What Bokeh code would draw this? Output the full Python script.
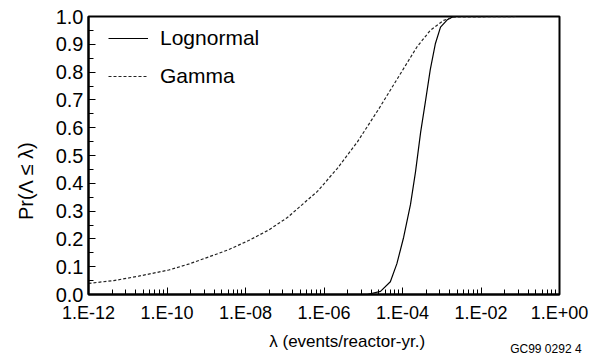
import math
from bokeh.plotting import figure
from bokeh.models import (Range1d, FixedTicker, CustomJSTickFormatter,
                          Legend, LegendItem, LogAxis, LinearAxis)
from bokeh.embed import file_html
from bokeh.resources import INLINE

# ---- data ----
lognormal_lambda = [5.0e-6, 1.26e-5, 2.75e-5, 4.9e-5, 7.2e-5, 1.07e-4, 1.6e-4,
                    2.15e-4, 2.9e-4, 3.8e-4, 5.1e-4, 6.9e-4, 9.3e-4, 1.38e-3,
                    2.0e-3, 3.0e-2]
lognormal_prob = [0.0, 0.0, 0.011, 0.046, 0.111, 0.206, 0.324,
                  0.442, 0.584, 0.690, 0.809, 0.903, 0.962, 0.988,
                  1.0, 1.0]

gamma_lambda = [1.0e-12, 4.4e-12, 1.9e-11, 1.1e-10, 3.5e-10, 1.15e-9, 3.7e-9,
                1.2e-8, 3.9e-8, 1.17e-7, 6.8e-7, 2.2e-6, 7.1e-6, 2.5e-5,
                8.5e-5, 2.35e-4, 5.1e-4, 1.12e-3, 2.0e-3, 8.0e-2]
gamma_prob = [0.040, 0.050, 0.066, 0.088, 0.109, 0.135, 0.161,
              0.194, 0.232, 0.277, 0.371, 0.454, 0.549, 0.668,
              0.790, 0.891, 0.950, 0.986, 0.998, 1.0]

x_ticks = [1e-12, 1e-10, 1e-8, 1e-6, 1e-4, 1e-2, 1e0]
x_tick_labels = ["1.E-12", "1.E-10", "1.E-08", "1.E-06", "1.E-04", "1.E-02", "1.E+00"]
y_ticks = [0.0, 0.1, 0.2, 0.3, 0.4, 0.5, 0.6, 0.7, 0.8, 0.9, 1.0]
y_tick_labels = ["0.0", "0.1", "0.2", "0.3", "0.4", "0.5", "0.6", "0.7", "0.8", "0.9", "1.0"]
series_names = ["Lognormal", "Gamma"]
x_title = "λ (events/reactor-yr.)"
y_title = "Pr(Λ ≤ λ)"
figure_code = "GC99 0292 4"

FONT = "Liberation Sans"

p = figure(width=591, height=358, x_axis_type="log",
           x_range=Range1d(1e-12, 1e0), y_range=Range1d(0, 1),
           output_backend="svg", toolbar_location=None,
           min_border_left=88, min_border_right=32,
           min_border_top=16, min_border_bottom=60)
p.background_fill_color = "white"
p.border_fill_color = "white"
p.outline_line_color = "black"
p.outline_line_width = 2
p.xgrid.visible = False
p.ygrid.visible = False

# minor ticks on x: log-spaced within each two-decade interval
x_minor = []
for t in x_ticks[:-1]:
    for k in range(2, 10):
        x_minor.append(t * k * k)
y_minor = [0.05 + 0.1 * i for i in range(10)]

xa = p.xaxis[0]
xa.ticker = FixedTicker(ticks=x_ticks, minor_ticks=x_minor)
xa.formatter = CustomJSTickFormatter(args=dict(labels=x_tick_labels),
                                     code="return labels[index];")
ya = p.yaxis[0]
ya.ticker = FixedTicker(ticks=y_ticks, minor_ticks=y_minor)
ya.formatter = CustomJSTickFormatter(args=dict(labels=y_tick_labels),
                                     code="return labels[index];")

for ax in (xa, ya):
    ax.axis_line_width = 2
    ax.axis_line_color = "black"
    ax.major_tick_in = 7
    ax.major_tick_out = 0
    ax.minor_tick_in = 5
    ax.minor_tick_out = 0
    ax.major_tick_line_color = "black"
    ax.minor_tick_line_color = "black"
    ax.major_label_text_font = FONT
    ax.major_label_text_color = "black"
xa.major_label_text_font_size = "18px"
xa.major_label_standoff = 8
ya.major_label_text_font_size = "20px"
ya.major_label_standoff = 5

r1 = p.line(lognormal_lambda, lognormal_prob, line_color="black", line_width=1.2)
r2 = p.line(gamma_lambda, gamma_prob, line_color="#222222", line_width=1.2,
            line_dash="3 2")

legend = Legend(items=[LegendItem(label=series_names[0], renderers=[r1]),
                       LegendItem(label=series_names[1], renderers=[r2])],
                location=(20, 206), orientation="vertical")
legend.background_fill_alpha = 0
legend.border_line_alpha = 0
legend.padding = 0
legend.margin = 0
legend.spacing = 14
legend.glyph_width = 40
legend.glyph_height = 20
legend.label_height = 20
legend.label_standoff = 12
legend.label_text_font = FONT
legend.label_text_font_size = "21px"
legend.label_text_color = "black"
p.add_layout(legend, "center")


def text_axis(axis, pos, text, size, standoff, orientation="horizontal"):
    axis.ticker = FixedTicker(ticks=[pos], minor_ticks=[])
    axis.formatter = CustomJSTickFormatter(args=dict(t=text), code="return t;")
    axis.axis_line_alpha = 0
    axis.major_tick_line_alpha = 0
    axis.minor_tick_line_alpha = 0
    axis.major_tick_in = 0
    axis.major_tick_out = 0
    axis.minor_tick_in = 0
    axis.minor_tick_out = 0
    axis.major_label_standoff = standoff
    axis.major_label_text_font = FONT
    axis.major_label_text_font_size = size
    axis.major_label_text_color = "black"
    axis.major_label_orientation = orientation
    return axis


# x-axis title, drawn as the label of a bare axis
xt_axis = text_axis(LogAxis(), 3.9e-6, x_title, "17px", 6)
p.add_layout(xt_axis, "below")

# figure code at bottom right, drawn as the label of a bare axis (pulled up)
gc_axis = text_axis(LogAxis(), 0.45, figure_code, "12px", -12)
p.add_layout(gc_axis, "below")

# y-axis title, drawn as a rotated label of a bare axis
yt_axis = text_axis(LinearAxis(), 0.551, y_title, "20px", 26, math.pi / 2)
p.add_layout(yt_axis, "left")

open("out.html", "w").write(file_html(p, INLINE))
